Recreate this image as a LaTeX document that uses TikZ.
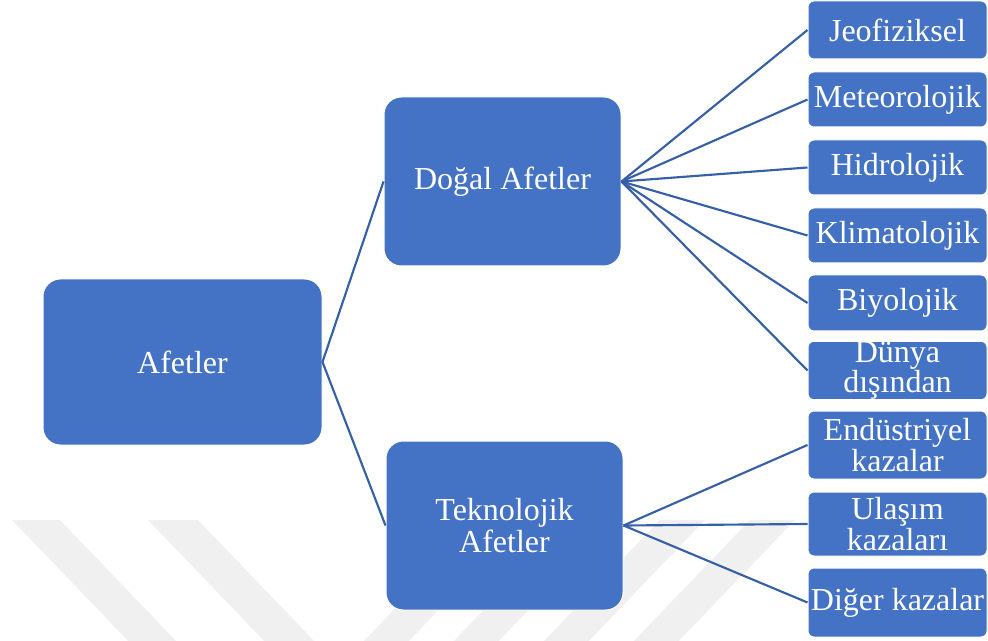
\documentclass[tikz,border=0pt]{standalone}
\usepackage{fontspec}
\setmainfont{Liberation Serif}
\definecolor{boxblue}{HTML}{4472C4}
\definecolor{linkblue}{HTML}{3560A8}
\definecolor{wm}{HTML}{F0F0F0}
\begin{document}
\begin{tikzpicture}[x=0.75pt,y=-0.75pt,
  bigbox/.style={rectangle, fill=boxblue, draw=white, line width=0.75pt,
    rounded corners=13pt, inner sep=0pt, align=center, text=white,
    font=\fontsize{24}{24}\selectfont},
  smallbox/.style={rectangle, fill=boxblue, draw=white, line width=0.75pt,
    rounded corners=4.5pt, inner sep=0pt, align=center, text=white,
    minimum width={179*0.75pt}, font=\fontsize{24}{23}\selectfont},
  link/.style={draw=linkblue, line width=1.6pt}]
\useasboundingbox (0,0) rectangle (988,641);
\begin{scope}
\clip (0,0) rectangle (988,641);
% watermark stripes
\fill[wm] (12,520) -- (60,520) -- (180,645) -- (132,645) -- cycle;
\fill[wm] (148,520) -- (198,520) -- (318,645) -- (268,645) -- cycle;
\foreach \a in {480,570,660,750}{
  \fill[wm] (\a,520) -- (\a+45,520) -- (\a+45-120,645) -- (\a-120,645) -- cycle;
}
\end{scope}

\node[bigbox, minimum width={279*0.75pt}, minimum height={166*0.75pt}] (afet) at (182.5,362) {Afetler};
\node[bigbox, minimum width={237*0.75pt}, minimum height={169*0.75pt}] (dogal) at (502.5,181.5) {Doğal Afetler};
\node[bigbox, minimum width={237*0.75pt}, minimum height={169*0.75pt}] (tekno) at (504.5,525.5) {Teknolojik\\Afetler};

\node[smallbox, minimum height={58*0.75pt}] (jeo) at (897.5,30) {Jeofiziksel};
\node[smallbox, minimum height={55*0.75pt}] (met) at (897.5,99.5) {Meteorolojik};
\node[smallbox, minimum height={55*0.75pt}] (hid) at (897.5,167.5) {Hidrolojik};
\node[smallbox, minimum height={55*0.75pt}] (kli) at (897.5,235.5) {Klimatolojik};
\node[smallbox, minimum height={56*0.75pt}] (biy) at (897.5,303) {Biyolojik};
\node[smallbox, minimum height={55*0.75pt}] (dun) at (897.5,370.5) {Dünya\\dışından};
\node[smallbox, minimum height={68*0.75pt}] (end) at (897.5,445) {Endüstriyel\\kazalar};
\node[smallbox, minimum height={64*0.75pt}] (ula) at (897.5,524) {Ulaşım\\kazaları};
\node[smallbox, minimum height={69*0.75pt}] (dig) at (897.5,602.5) {Diğer kazalar};

\draw[link] (dogal.west) -- (afet.east) -- (tekno.west);
\foreach \n in {jeo,met,hid,kli,biy,dun}{
  \draw[link] (dogal.east) -- (\n.west);
}
\foreach \n in {end,ula,dig}{
  \draw[link] (tekno.east) -- (\n.west);
}
\end{tikzpicture}
\end{document}
